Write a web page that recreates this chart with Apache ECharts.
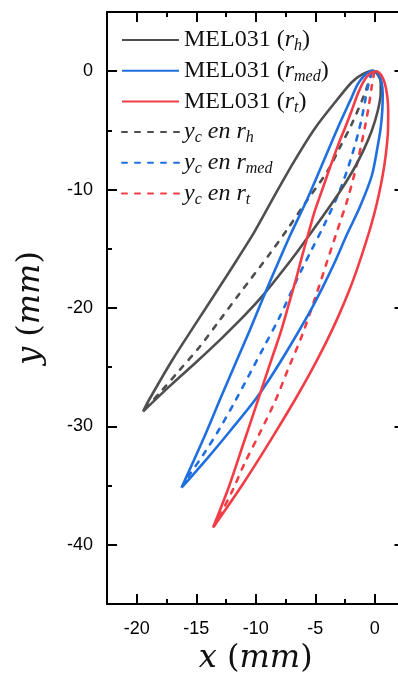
<!DOCTYPE html>
<html><head><meta charset="utf-8">
<script src="https://cdn.jsdelivr.net/npm/echarts@6/dist/echarts.min.js"></script>
<style>html,body{margin:0;padding:0;background:#fff;overflow:hidden}#c{width:406px;height:680px}</style>
</head><body><div id="c"></div>
<script>
// ---- data (mm) ----
const seriesNames = ['MEL031 (r_h)', 'MEL031 (r_med)', 'MEL031 (r_t)', 'y_c en r_h', 'y_c en r_med', 'y_c en r_t'];
const xMajorTicks = [-20, -15, -10, -5, 0];
const xMinorTicks = [-17.5, -12.5, -7.5, -2.5];
const yMajorTicks = [-40, -30, -20, -10, 0];
const yMinorTicks = [-35, -25, -15, -5];

// hub section r_h : suction side (LE -> TE), pressure side (LE -> TE), camber line
const rhSuction = [[-0.17,0.04],[-1.09,-0.29],[-1.93,-0.93],[-2.80,-1.96],[-4.99,-4.77],[-6.75,-7.57],[-8.42,-10.51],[-10.05,-13.46],[-11.12,-15.20],[-12.30,-17.07],[-15.02,-21.28],[-17.01,-24.39],[-18.96,-27.75],[-19.47,-28.74]];
const rhPressure = [[-0.17,0.04],[0.29,-0.34],[0.50,-1.01],[0.50,-1.85],[0.25,-3.36],[-0.26,-5.05],[-0.97,-6.73],[-1.84,-8.41],[-3.06,-10.37],[-5.22,-13.46],[-6.43,-15.14],[-7.77,-16.90],[-9.27,-18.78],[-10.92,-20.61],[-12.85,-22.54],[-14.99,-24.56],[-17.21,-26.58],[-19.47,-28.74]];
const rhCamber = [[-0.25,-0.08],[-0.87,-1.96],[-1.93,-4.46],[-2.94,-6.45],[-3.95,-8.41],[-5.88,-11.19],[-7.42,-13.46],[-8.82,-15.42],[-11.34,-18.76],[-13.03,-21.03],[-14.71,-23.27],[-16.39,-25.23],[-18.07,-27.17],[-19.24,-28.43]];

// mid section r_med
const rmedSuction = [[-0.17,0.04],[-0.84,-0.34],[-1.43,-1.09],[-1.93,-2.19],[-3.10,-4.77],[-4.75,-8.66],[-5.85,-11.20],[-7.05,-13.73],[-8.00,-15.90],[-9.00,-18.23],[-10.50,-21.87],[-11.70,-24.67],[-12.90,-27.48],[-14.30,-30.84],[-16.24,-35.18]];
const rmedPressure = [[-0.17,0.04],[0.25,-0.17],[0.55,-0.84],[0.67,-1.93],[0.63,-3.36],[0.50,-4.79],[0.25,-6.31],[-0.25,-8.83],[-1.27,-11.52],[-2.30,-13.71],[-3.42,-16.26],[-4.37,-18.23],[-5.53,-20.46],[-7.22,-23.38],[-8.68,-25.74],[-10.05,-27.75],[-12.07,-30.28],[-14.16,-32.80],[-16.24,-35.18]];
const rmedCamber = [[-0.25,-0.08],[-0.59,-1.40],[-1.18,-4.37],[-1.93,-7.15],[-2.94,-10.09],[-4.15,-12.78],[-5.33,-15.14],[-6.17,-16.82],[-6.76,-18.08],[-7.99,-20.75],[-9.30,-23.27],[-11.67,-27.75],[-13.09,-30.28],[-14.29,-32.21],[-15.64,-34.20],[-16.13,-34.99]];

// tip section r_t
const rtSuction = [[0.14,0.00],[-0.42,-0.21],[-0.92,-0.84],[-1.43,-1.93],[-1.95,-3.36],[-2.50,-4.79],[-3.05,-6.16],[-3.80,-8.24],[-4.50,-10.26],[-5.10,-12.00],[-5.60,-13.80],[-6.10,-15.60],[-6.60,-17.50],[-7.20,-19.60],[-7.85,-21.87],[-8.55,-23.97],[-9.25,-26.07],[-10.05,-28.50],[-11.02,-31.40],[-12.24,-35.05],[-13.59,-38.55]];
const rtPressure = [[0.14,0.00],[0.55,-0.34],[0.84,-1.01],[1.05,-2.10],[1.13,-3.36],[1.12,-4.79],[1.01,-6.31],[0.80,-7.99],[0.50,-9.67],[0.17,-11.19],[-0.24,-12.78],[-0.77,-14.55],[-1.52,-16.82],[-2.14,-18.50],[-3.09,-20.77],[-4.13,-22.99],[-5.38,-25.40],[-6.70,-27.75],[-8.72,-31.12],[-11.01,-34.76],[-13.59,-38.55]];
const rtCamber = [[-0.04,-0.08],[-0.25,-1.26],[-0.50,-2.94],[-0.84,-4.79],[-1.43,-7.57],[-2.27,-10.77],[-3.15,-13.46],[-4.03,-16.15],[-4.96,-19.01],[-6.13,-22.37],[-7.31,-25.23],[-8.32,-27.75],[-9.66,-30.56],[-10.92,-33.08],[-11.91,-35.32],[-13.03,-37.57],[-13.45,-38.35]];

// ---- build ----
function loop(suction, pressure) {
  // TE -> pressure side -> LE -> suction side -> TE
  return pressure.slice().reverse().concat(suction.slice(1));
}
const colors = ['#4f4f4f', '#1f6fdf', '#f23d47'];
const profiles = [loop(rhSuction, rhPressure), loop(rmedSuction, rmedPressure), loop(rtSuction, rtPressure)];
const cambers = [rhCamber, rmedCamber, rtCamber];

const series = [];
profiles.forEach((d, i) => series.push({
  name: seriesNames[i], type: 'line', data: d, smooth: 0.3, symbol: 'none',
  lineStyle: { color: colors[i], width: 2.6 }, itemStyle: { color: colors[i] }, z: 3
}));
cambers.forEach((d, i) => series.push({
  name: seriesNames[i + 3], type: 'line', data: d, smooth: 0.3, symbol: 'none',
  lineStyle: { color: colors[i], width: 2.6, type: [5, 8], cap: 'round' }, itemStyle: { color: colors[i] }, z: 2
}));

const richLegend = {
  rm: { fontFamily: 'Liberation Serif', fontSize: 24, color: '#111', lineHeight: 28 },
  it: { fontFamily: 'Liberation Serif', fontStyle: 'italic', fontSize: 24, color: '#111', lineHeight: 28 },
  sub: { fontFamily: 'Liberation Serif', fontStyle: 'italic', fontSize: 16, color: '#111', lineHeight: 28, verticalAlign: 'bottom' }
};
function legendText(name) {
  const m = name.match(/^(.*)r_(\w+)(\)?)$/);
  if (name.startsWith('MEL031')) {
    return '{rm|MEL031 (}{it|r}{sub|' + m[2] + '}{rm|)}';
  }
  return '{it|y}{sub|c}{it| en r}{sub|' + m[2] + '}';
}

const tickLine = { color: '#000', width: 2 };
const labelFont = { fontFamily: 'Liberation Sans', fontSize: 18, color: '#000' };
const nameRich = {
  i: { fontFamily: 'DejaVu Serif', fontStyle: 'italic', fontSize: 32, color: '#111' },
  u: { fontFamily: 'DejaVu Serif', fontSize: 32, color: '#111' }
};

function xAx(pos, ticks, len, showLine, showLabel) {
  return {
    type: 'value', position: pos, min: -22.5, max: 2.5,
    axisLine: { show: showLine, onZero: false, lineStyle: tickLine },
    axisTick: { show: true, inside: true, length: len, lineStyle: tickLine, customValues: ticks },
    axisLabel: showLabel ? Object.assign({ show: true, margin: 16, customValues: ticks }, labelFont) : { show: false },
    splitLine: { show: false }
  };
}
function yAx(pos, ticks, len, showLine, showLabel) {
  return {
    type: 'value', position: pos, min: -45, max: 5,
    axisLine: { show: showLine, onZero: false, lineStyle: tickLine },
    axisTick: { show: true, inside: true, length: len, lineStyle: tickLine, customValues: ticks },
    axisLabel: showLabel ? Object.assign({ show: true, margin: 14, customValues: ticks }, labelFont) : { show: false },
    splitLine: { show: false }
  };
}

const xAxes = [xAx('bottom', xMajorTicks, 10, true, true), xAx('bottom', xMinorTicks, 5, false, false),
               xAx('top', xMajorTicks, 10, true, false), xAx('top', xMinorTicks, 5, false, false)];
xAxes[0].name = '{i|x}{u| (}{i|mm}{u|)}';
xAxes[0].nameLocation = 'middle';
xAxes[0].nameGap = 39;
xAxes[0].nameTextStyle = { rich: nameRich };
const yAxes = [yAx('left', yMajorTicks, 10, true, true), yAx('left', yMinorTicks, 5, false, false),
               yAx('right', yMajorTicks, 10, true, false), yAx('right', yMinorTicks, 5, false, false)];
yAxes[0].name = '{i|y}{u| (}{i|mm}{u|)}';
yAxes[0].nameLocation = 'middle';
yAxes[0].nameGap = 60;
yAxes[0].nameTextStyle = { rich: nameRich };

const chart = echarts.init(document.getElementById('c'), null, { renderer: 'canvas' });
chart.setOption({
  animation: false,
  backgroundColor: '#fff',
  grid: { left: 107, top: 12, width: 297.5, height: 593, containLabel: false },
  xAxis: xAxes,
  yAxis: yAxes,
  legend: {
    data: seriesNames, orient: 'vertical', left: 121, top: 28, padding: 0,
    itemWidth: 57, itemHeight: 14, itemGap: 4.7,
    itemStyle: { opacity: 0 },
    formatter: legendText,
    textStyle: { rich: richLegend }
  },
  series: series
});
</script></body></html>
